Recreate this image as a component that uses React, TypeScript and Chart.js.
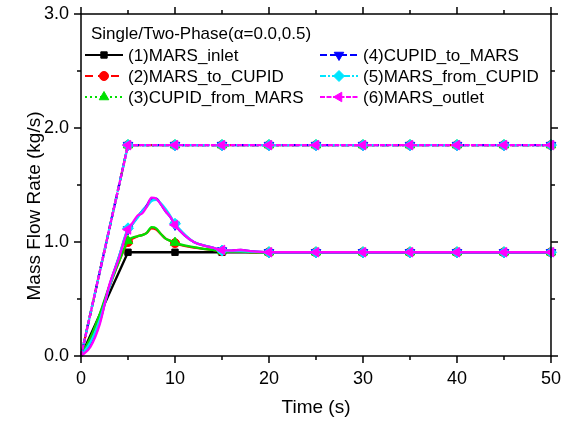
import React, { useEffect, useRef } from "react";
import { Chart, registerables } from "chart.js";
import { drawPoint } from "chart.js/helpers";

Chart.register(...registerables);

const FONT = "'Liberation Sans', Arial, sans-serif";

// Time grids (s)
const TIME5 = [0, 5, 10, 15, 20, 25, 30, 35, 40, 45, 50];
const TIME_FINE = [0, 1, 2, 3, 4, 5, 5.5, 6, 6.5, 7, 7.5, 8, 8.5, 9, 9.5, 10, 11, 12, 13, 14, 15, 16, 17, 18, 20, 25, 30, 35, 40, 45, 50];

// Single-phase (lower group), kg/s
const MARS_INLET = [0, 0.91, 0.91, 0.91, 0.91, 0.91, 0.91, 0.91, 0.91, 0.91, 0.91];
const MARS_TO_CUPID = [0, 0.15, 0.36, 0.6, 0.82, 1.0, 1.03, 1.05, 1.06, 1.08, 1.12, 1.11, 1.07, 1.03, 1.01, 0.99, 0.965, 0.95, 0.94, 0.93, 0.92, 0.915, 0.915, 0.91, 0.91, 0.91, 0.91, 0.91, 0.91, 0.91, 0.91];
const CUPID_FROM_MARS = [0, 0.16, 0.37, 0.61, 0.82, 1.01, 1.04, 1.05, 1.06, 1.08, 1.13, 1.12, 1.07, 1.03, 1.01, 0.995, 0.97, 0.955, 0.94, 0.93, 0.92, 0.915, 0.915, 0.91, 0.91, 0.91, 0.91, 0.91, 0.91, 0.91, 0.91];
const CUPID_TO_MARS = [0, 0.1, 0.3, 0.61, 0.86, 1.11, 1.16, 1.22, 1.27, 1.32, 1.38, 1.38, 1.33, 1.27, 1.22, 1.15, 1.06, 1.0, 0.97, 0.95, 0.925, 0.925, 0.93, 0.92, 0.91, 0.91, 0.91, 0.91, 0.91, 0.91, 0.91];
const MARS_FROM_CUPID = [0, 0.12, 0.32, 0.6, 0.86, 1.12, 1.16, 1.21, 1.27, 1.31, 1.36, 1.37, 1.34, 1.29, 1.23, 1.16, 1.07, 1.0, 0.97, 0.95, 0.925, 0.92, 0.92, 0.915, 0.91, 0.91, 0.91, 0.91, 0.91, 0.91, 0.91];
const MARS_OUTLET = [0, 0.08, 0.28, 0.62, 0.85, 1.11, 1.17, 1.23, 1.25, 1.31, 1.39, 1.38, 1.33, 1.27, 1.22, 1.15, 1.06, 1.0, 0.97, 0.95, 0.93, 0.925, 0.93, 0.92, 0.91, 0.91, 0.91, 0.91, 0.91, 0.91, 0.91];

// Two-phase (upper group), kg/s
const TWO_PHASE = [0, 1.85, 1.85, 1.85, 1.85, 1.85, 1.85, 1.85, 1.85, 1.85, 1.85];

const LEGEND_TITLE = "Single/Two-Phase(\u03b1=0.0,0.5)";
const X_MAJOR = [0, 10, 20, 30, 40, 50];
const X_MINOR = [5, 15, 25, 35, 45];
const Y_MAJOR = [0, 1, 2, 3];
const Y_MINOR = [0.5, 1.5, 2.5];

type Series = {
  label: string;
  color: string;
  dash: number[];
  style: string;
  rot: number;
  r: number;
  t: number[];
  v: number[];
  high: boolean;
};

const SERIES: Series[] = [
  { label: "(1)MARS_inlet", color: "#000000", dash: [], style: "rect", rot: 0, r: 4.5, t: TIME5, v: MARS_INLET, high: false },
  { label: "(2)MARS_to_CUPID", color: "#ff0000", dash: [8, 5], style: "circle", rot: 0, r: 4.5, t: TIME_FINE, v: MARS_TO_CUPID, high: true },
  { label: "(3)CUPID_from_MARS", color: "#00e000", dash: [2, 3], style: "triangle", rot: 0, r: 5.5, t: TIME_FINE, v: CUPID_FROM_MARS, high: true },
  { label: "(4)CUPID_to_MARS", color: "#0000ff", dash: [7, 3], style: "triangle", rot: 180, r: 5.5, t: TIME_FINE, v: CUPID_TO_MARS, high: true },
  { label: "(5)MARS_from_CUPID", color: "#00e5ff", dash: [6, 2, 2, 2], style: "rectRot", rot: 0, r: 5.5, t: TIME_FINE, v: MARS_FROM_CUPID, high: true },
  { label: "(6)MARS_outlet", color: "#ff00ff", dash: [5, 1.5], style: "triangle", rot: 270, r: 5.5, t: TIME_FINE, v: MARS_OUTLET, high: true },
];

function makeDataset(s: Series, idx: number, t: number[], v: number[], smooth: boolean, dashed: boolean) {
  return {
    label: s.label,
    data: t.map((x, i) => ({ x, y: v[i] })),
    borderColor: s.color,
    backgroundColor: s.color,
    borderWidth: 2.3,
    borderDash: dashed ? s.dash : [],
    pointStyle: s.style,
    pointRotation: s.rot,
    pointBackgroundColor: s.color,
    pointBorderColor: s.color,
    pointBorderWidth: 1,
    pointRadius: (c: any) => {
      const x = c.raw ? c.raw.x : 0;
      return x > 0 && x % 5 === 0 ? s.r : 0;
    },
    pointHoverRadius: 0,
    tension: smooth ? 0.4 : 0,
    cubicInterpolationMode: smooth ? "monotone" : "default",
    clip: false as any,
    order: SERIES.length - idx,
  };
}

const framePlugin = {
  id: "frame",
  afterDatasetsDraw(chart: any) {
    const { ctx, chartArea: a, scales } = chart;
    const xs = scales.x;
    const ys = scales.y;
    ctx.save();
    ctx.strokeStyle = "#000";
    ctx.lineWidth = 1.5;
    ctx.strokeRect(a.left, a.top, a.right - a.left, a.bottom - a.top);
    const tick = (x1: number, y1: number, x2: number, y2: number) => {
      ctx.beginPath();
      ctx.moveTo(x1, y1);
      ctx.lineTo(x2, y2);
      ctx.stroke();
    };
    const MAJ = 7;
    const MIN = 4;
    X_MAJOR.forEach((v) => {
      const p = xs.getPixelForValue(v);
      tick(p, a.bottom, p, a.bottom + MAJ);
      tick(p, a.top, p, a.top - MAJ);
    });
    X_MINOR.forEach((v) => {
      const p = xs.getPixelForValue(v);
      tick(p, a.bottom, p, a.bottom + MIN);
      tick(p, a.top, p, a.top - MIN);
    });
    Y_MAJOR.forEach((v) => {
      const p = ys.getPixelForValue(v);
      tick(a.left, p, a.left - MAJ, p);
      tick(a.right, p, a.right + MAJ, p);
    });
    Y_MINOR.forEach((v) => {
      const p = ys.getPixelForValue(v);
      tick(a.left, p, a.left - MIN, p);
      tick(a.right, p, a.right + MIN, p);
    });

    // axis titles
    ctx.fillStyle = "#000";
    ctx.font = `19px ${FONT}`;
    ctx.textAlign = "center";
    ctx.textBaseline = "middle";
    ctx.fillText("Time (s)", (a.left + a.right) / 2, 408);
    ctx.save();
    ctx.translate(35, 206);
    ctx.rotate(-Math.PI / 2);
    ctx.fillText("Mass Flow Rate (kg/s)", 0, 0);
    ctx.restore();

    // legend
    ctx.font = `17px ${FONT}`;
    ctx.textAlign = "left";
    ctx.fillText(LEGEND_TITLE, 91, 34);
    SERIES.forEach((s, i) => {
      const col = i < 3 ? 0 : 1;
      const row = i % 3;
      const y = 55 + row * 21;
      const x0 = col === 0 ? 85 : 320;
      const x1 = x0 + 38;
      ctx.save();
      ctx.strokeStyle = s.color;
      ctx.fillStyle = s.color;
      ctx.lineWidth = 2;
      ctx.setLineDash(s.dash);
      ctx.beginPath();
      ctx.moveTo(x0, y);
      ctx.lineTo(x1, y);
      ctx.stroke();
      ctx.setLineDash([]);
      ctx.lineWidth = 1;
      drawPoint(ctx, { pointStyle: s.style as any, rotation: s.rot, radius: s.r, borderWidth: 1 } as any, (x0 + x1) / 2, y);
      ctx.restore();
      ctx.fillStyle = "#000";
      ctx.fillText(s.label, x1 + 5, y + 1);
    });
    ctx.restore();
  },
};

export default function App() {
  const ref = useRef<HTMLCanvasElement | null>(null);
  useEffect(() => {
    document.body.style.margin = "0";
    if (!ref.current) return;
    const datasets: any[] = [];
    SERIES.forEach((s, i) => {
      if (s.high) datasets.push(makeDataset(s, i, TIME5, TWO_PHASE, false, true));
    });
    SERIES.forEach((s, i) => datasets.push(makeDataset(s, i, s.t, s.v, s.t === TIME_FINE, false)));
    const chart = new Chart(ref.current, {
      type: "line",
      data: { datasets },
      options: {
        responsive: false,
        animation: false,
        events: [],
        layout: { padding: { left: 0, right: 22, top: 14, bottom: 0 } },
        plugins: { legend: { display: false }, tooltip: { enabled: false } },
        scales: {
          x: {
            type: "linear",
            min: 0,
            max: 50,
            grid: { display: false, drawTicks: false },
            border: { display: false },
            ticks: {
              stepSize: 10,
              color: "#000",
              font: { family: FONT, size: 18 },
              padding: 12,
              maxRotation: 0,
            },
            afterFit: (sc: any) => {
              sc.height = 68;
            },
          },
          y: {
            type: "linear",
            min: 0,
            max: 3,
            grid: { display: false, drawTicks: false },
            border: { display: false },
            ticks: {
              stepSize: 1,
              color: "#000",
              font: { family: FONT, size: 18 },
              padding: 12,
              callback: (v: any) => Number(v).toFixed(1),
            },
            afterFit: (sc: any) => {
              sc.width = 81;
              sc.paddingTop = 0;
              sc.paddingBottom = 0;
            },
          },
        },
      },
      plugins: [framePlugin],
    });
    return () => chart.destroy();
  }, []);
  return <canvas ref={ref} width={573} height={424} style={{ display: "block" }} />;
}
